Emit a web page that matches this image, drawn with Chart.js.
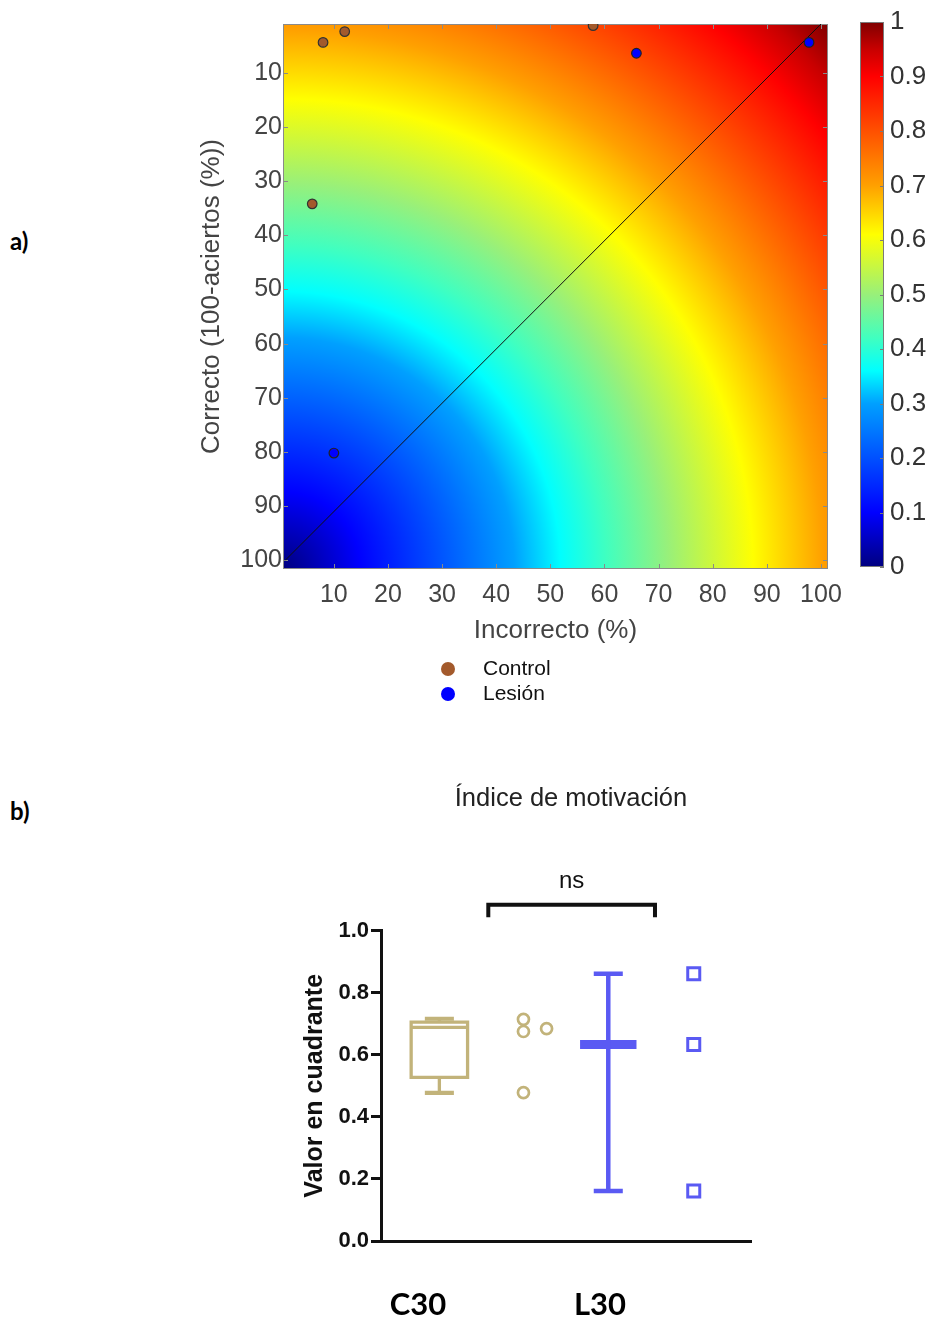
<!DOCTYPE html>
<html lang="es">
<head>
<meta charset="utf-8">
<title>Índice de motivación</title>
<script src="https://cdn.jsdelivr.net/npm/chart.js@4.4.1/dist/chart.umd.min.js"></script>
<style>
  body { margin: 0; background: #fff; }
  #figura { position: relative; width: 932px; height: 1323px; overflow: hidden; }
  #figura canvas { position: absolute; }
  .panel-tag { position: absolute; left: 10px; font: bold 24px Lato, "Open Sans", sans-serif; line-height: 28px; color: #000; }
</style>
</head>
<body>
<div id="figura">
  <div class="panel-tag" style="top:227px">a)</div>
  <div class="panel-tag" style="top:797px">b)</div>
  <canvas id="mapa" width="680" height="720" style="left:180px;top:0"></canvas>
  <canvas id="barra" width="82" height="600" style="left:850px;top:0"></canvas>
  <canvas id="indice" width="662" height="563" style="left:240px;top:760px"></canvas>
</div>
<script>
// ---- a) mapa correcto / incorrecto ----
const ejeTicks = [10, 20, 30, 40, 50, 60, 70, 80, 90, 100];
const controlIncorrecto = [8.0, 12.0, 57.9, 6.0];
const controlCorrecto = [4.4, 2.4, 1.3, 34.2];
const lesionIncorrecto = [65.9, 97.8, 10.0];
const lesionCorrecto = [6.4, 4.4, 80.2];
const diagonalIncorrecto = [1, 100];
const diagonalCorrecto = [100, 1];

// escala de color (posición 0-1 -> color)
const escalaPos = [0, 0.1, 0.2, 0.3, 0.36, 0.42, 0.5, 0.61, 0.7, 0.8, 0.9, 0.95, 1];
const escalaColor = ['#00007f', '#0000ff', '#0050ff', '#00a0ff', '#00ffff', '#40ffc0', '#98f07a',
  '#ffff00', '#ffa000', '#ff5000', '#ff0000', '#c80000', '#7f0000'];
const barraTicks = [0, 0.1, 0.2, 0.3, 0.4, 0.5, 0.6, 0.7, 0.8, 0.9, 1];

// ---- b) índice de motivación ----
const grupos = ['C30', 'L30'];
const c30Valores = [0.714, 0.675, 0.684, 0.478];
const c30Caja = [0.477, 0.527, 0.688, 0.705, 0.716]; // mín, Q1, mediana, Q3, máx
const l30Valores = [0.861, 0.633, 0.161];
const l30Mediana = 0.633;
const l30Rango = [0.161, 0.861];
const indiceTicks = [0, 0.2, 0.4, 0.6, 0.8, 1.0];
const significancia = 'ns';

// posiciones en el eje x de b) (0-4)
const POS = { caja: 0.631, c30: 1.54, l30: 2.457, l30Puntos: 3.381, etiquetas: [0.4, 2.368] };
const c30Jitter = [0, 0, 0.25, 0];
const ANCHO_CAJA = 0.305;
const ANCHO_CAP = 0.157;
const corcheteX = [1.16, 2.962];
const corcheteY = [1.043, 1.083];

const TAN = '#c2b37a';
const AZUL = '#5a5af3';
Chart.defaults.font.family = '"Liberation Sans", Arial, sans-serif';
Chart.defaults.animation = false;

const fijarTicks = (valores) => (s) => { s.ticks = valores.map(v => ({ value: v })); };

const fondoMapa = {
  id: 'fondoMapa',
  beforeDatasetsDraw(chart) {
    const { ctx, chartArea: a, scales } = chart;
    const w = a.right - a.left, h = a.bottom - a.top;
    ctx.save();
    const g = ctx.createRadialGradient(a.left, a.bottom, 0, a.left, a.bottom, Math.hypot(w, h));
    escalaPos.forEach((p, i) => g.addColorStop(p, escalaColor[i]));
    ctx.fillStyle = g;
    ctx.fillRect(a.left, a.top, w, h);
    ctx.strokeStyle = '#8a8a8a';
    ctx.lineWidth = 1;
    ctx.strokeRect(a.left + 0.5, a.top + 0.5, w - 1, h - 1);
    ctx.beginPath();
    scales.x.ticks.forEach(t => {
      const px = Math.round(scales.x.getPixelForValue(t.value)) + 0.5;
      ctx.moveTo(px, a.top); ctx.lineTo(px, a.top + 5);
      ctx.moveTo(px, a.bottom); ctx.lineTo(px, a.bottom - 5);
    });
    scales.y.ticks.forEach(t => {
      const py = Math.round(scales.y.getPixelForValue(t.value)) + 0.5;
      ctx.moveTo(a.left, py); ctx.lineTo(a.left + 5, py);
      ctx.moveTo(a.right, py); ctx.lineTo(a.right - 5, py);
    });
    ctx.stroke();
    ctx.restore();
  }
};

const leyendaMapa = {
  id: 'leyendaMapa',
  afterDraw(chart) {
    const { ctx, chartArea: a } = chart;
    ctx.save();
    ctx.font = '21px "Liberation Sans", Arial, sans-serif';
    ctx.textBaseline = 'middle';
    chart.data.datasets.filter(d => d.label).forEach((d, i) => {
      const y = a.bottom + 100 + i * 25;
      ctx.beginPath();
      ctx.arc(a.left + 165, y, 7, 0, Math.PI * 2);
      ctx.fillStyle = d.backgroundColor;
      ctx.fill();
      ctx.fillStyle = '#111';
      ctx.fillText(d.label, a.left + 200, y);
    });
    ctx.restore();
  }
};

new Chart(document.getElementById('mapa'), {
  type: 'scatter',
  data: {
    datasets: [
      { label: 'Control', data: controlIncorrecto.map((x, i) => ({ x, y: controlCorrecto[i] })),
        backgroundColor: '#a35a2c', borderColor: '#333', borderWidth: 1.2, pointRadius: 4.8 },
      { label: 'Lesión', data: lesionIncorrecto.map((x, i) => ({ x, y: lesionCorrecto[i] })),
        backgroundColor: '#0000ff', borderColor: '#222', borderWidth: 1.2, pointRadius: 4.8 },
      { type: 'line', label: '', data: diagonalIncorrecto.map((x, i) => ({ x, y: diagonalCorrecto[i] })),
        borderColor: '#111', borderWidth: 1, pointRadius: 0, fill: false },
    ],
  },
  options: {
    responsive: false,
    layout: { padding: { top: 24, right: 32, bottom: 71, left: 0 } },
    plugins: { legend: { display: false }, tooltip: { enabled: false } },
    scales: {
      x: {
        type: 'linear', min: 0.6, max: 101.3,
        afterBuildTicks: fijarTicks(ejeTicks),
        afterFit: (s) => { s.height = 80; },
        grid: { display: false, drawTicks: false }, border: { display: false },
        ticks: { font: { size: 25 }, color: '#444', padding: 11, maxRotation: 0 },
        title: { display: true, text: 'Incorrecto (%)', font: { size: 26 }, color: '#444', padding: { top: 0, bottom: 3 } },
      },
      y: {
        type: 'linear', reverse: true, min: 1, max: 101.6,
        afterBuildTicks: fijarTicks(ejeTicks),
        afterFit: (s) => { s.width = 103; },
        grid: { display: false, drawTicks: false }, border: { display: false },
        ticks: { font: { size: 25 }, color: '#444', padding: 1 },
        title: { display: true, text: 'Correcto (100-aciertos (%))', font: { size: 26 }, color: '#444', padding: { top: 16, bottom: 0 } },
      },
    },
  },
  plugins: [fondoMapa, leyendaMapa],
});

// barra de color
const marcoBarra = {
  id: 'marcoBarra',
  afterDatasetsDraw(chart) {
    const { ctx, chartArea: a, scales } = chart;
    ctx.save();
    ctx.strokeStyle = '#7a7a7a';
    ctx.lineWidth = 1;
    ctx.strokeRect(a.left + 0.5, a.top + 0.5, a.right - a.left - 1, a.bottom - a.top - 1);
    ctx.beginPath();
    scales.y.ticks.forEach(t => {
      const py = Math.round(scales.y.getPixelForValue(t.value)) + 0.5;
      ctx.moveTo(a.right, py); ctx.lineTo(a.right - 4, py);
    });
    ctx.stroke();
    ctx.restore();
  }
};

new Chart(document.getElementById('barra'), {
  type: 'bar',
  data: {
    labels: [''],
    datasets: [{
      data: [[0, 1]],
      barPercentage: 1, categoryPercentage: 1, borderWidth: 0,
      backgroundColor: (c) => {
        const a = c.chart.chartArea;
        if (!a) return '#888';
        const g = c.chart.ctx.createLinearGradient(0, a.bottom, 0, a.top);
        escalaPos.forEach((p, i) => g.addColorStop(p, escalaColor[i]));
        return g;
      },
    }],
  },
  options: {
    responsive: false,
    layout: { padding: { top: 22, right: 0, bottom: 33, left: 10 } },
    plugins: { legend: { display: false }, tooltip: { enabled: false } },
    scales: {
      x: { display: false },
      y: {
        position: 'right', min: 0, max: 1,
        afterBuildTicks: fijarTicks(barraTicks),
        afterFit: (s) => { s.width = 48; },
        grid: { display: false, drawTicks: false }, border: { display: false },
        ticks: { font: { size: 26 }, color: '#333', padding: 6,
          callback: (v) => (v === 0 || v === 1 ? String(v) : v.toFixed(1)) },
      },
    },
  },
  plugins: [marcoBarra],
});

// ---- b) ----
const tramo = (puntos, color, ancho, extra = {}) => ({
  type: 'line', data: puntos, borderColor: color, borderWidth: ancho,
  pointRadius: 0, fill: false, tension: 0, borderCapStyle: 'butt', ...extra,
});
const [cMin, cQ1, cMed, cQ3, cMax] = c30Caja;
const cx = POS.caja, ex = POS.l30;

const textoNs = {
  id: 'textoNs',
  afterDatasetsDraw(chart) {
    const { ctx, scales: { x, y } } = chart;
    const px = (x.getPixelForValue(corcheteX[0]) + x.getPixelForValue(corcheteX[1])) / 2;
    ctx.save();
    ctx.font = '24px "Liberation Sans", Arial, sans-serif';
    ctx.fillStyle = '#111';
    ctx.textAlign = 'center';
    ctx.textBaseline = 'middle';
    ctx.fillText(significancia, px, y.getPixelForValue(corcheteY[1]) - 23);
    ctx.restore();
  }
};

new Chart(document.getElementById('indice'), {
  type: 'scatter',
  data: {
    datasets: [
      // caja C30
      tramo([{ x: cx - ANCHO_CAJA, y: cQ1 }, { x: cx + ANCHO_CAJA, y: cQ1 }, { x: cx + ANCHO_CAJA, y: cQ3 },
        { x: cx - ANCHO_CAJA, y: cQ3 }, { x: cx - ANCHO_CAJA, y: cQ1 }], TAN, 3.3,
        { borderJoinStyle: 'miter', borderCapStyle: 'square' }),
      tramo([{ x: cx - ANCHO_CAJA, y: cMed }, { x: cx + ANCHO_CAJA, y: cMed }], TAN, 3.3),
      tramo([{ x: cx, y: cMin }, { x: cx, y: cQ1 }], TAN, 3.3),
      tramo([{ x: cx, y: cQ3 }, { x: cx, y: cMax }], TAN, 3.3),
      tramo([{ x: cx - ANCHO_CAP, y: cMin }, { x: cx + ANCHO_CAP, y: cMin }], TAN, 4.2),
      tramo([{ x: cx - ANCHO_CAP, y: cMax }, { x: cx + ANCHO_CAP, y: cMax }], TAN, 4.2),
      // puntos C30
      { type: 'scatter', data: c30Valores.map((v, i) => ({ x: POS.c30 + c30Jitter[i], y: v })),
        pointStyle: 'circle', pointRadius: 5.5, pointBorderWidth: 2.7,
        pointBorderColor: TAN, pointBackgroundColor: 'rgba(255,255,255,0)' },
      // mediana y rango L30
      tramo([{ x: ex, y: l30Rango[0] }, { x: ex, y: l30Rango[1] }], AZUL, 4.5),
      tramo([{ x: ex - ANCHO_CAP, y: l30Rango[0] }, { x: ex + ANCHO_CAP, y: l30Rango[0] }], AZUL, 4.5),
      tramo([{ x: ex - ANCHO_CAP, y: l30Rango[1] }, { x: ex + ANCHO_CAP, y: l30Rango[1] }], AZUL, 4.5),
      tramo([{ x: ex - ANCHO_CAJA, y: l30Mediana }, { x: ex + ANCHO_CAJA, y: l30Mediana }], AZUL, 9),
      // puntos L30
      { type: 'scatter', data: l30Valores.map(v => ({ x: POS.l30Puntos, y: v })),
        pointStyle: 'rect', pointRadius: 8.5, pointBorderWidth: 3,
        pointBorderColor: AZUL, pointBackgroundColor: '#fff' },
      // corchete de significancia
      tramo([{ x: corcheteX[0], y: corcheteY[0] }, { x: corcheteX[0], y: corcheteY[1] },
        { x: corcheteX[1], y: corcheteY[1] }, { x: corcheteX[1], y: corcheteY[0] }], '#111', 4,
        { clip: false, borderJoinStyle: 'miter' }),
    ],
  },
  options: {
    responsive: false,
    layout: { padding: 0 },
    plugins: {
      legend: { display: false },
      tooltip: { enabled: false },
      title: {
        display: true, text: 'Índice de motivación', color: '#222',
        font: { size: 25.5, weight: 'normal' }, padding: { top: 24, bottom: 116 },
      },
    },
    scales: {
      x: {
        type: 'linear', min: 0, max: 4,
        afterBuildTicks: fijarTicks(POS.etiquetas),
        afterFit: (s) => { s.height = 82; },
        grid: { display: false, drawTicks: false },
        border: { display: true, width: 3, color: '#111' },
        ticks: { font: { family: 'Lato, "Open Sans", sans-serif', size: 31, weight: 'bold' }, color: '#000',
          padding: 45, maxRotation: 0, autoSkip: false, callback: (v, i) => grupos[i] },
      },
      y: {
        min: 0, max: 1,
        afterBuildTicks: fijarTicks(indiceTicks),
        afterFit: (s) => { s.width = 141; },
        grid: { display: true, drawOnChartArea: false, drawTicks: true, tickLength: 10, tickWidth: 3, tickColor: '#111' },
        border: { display: true, width: 3, color: '#111' },
        ticks: { font: { size: 22, weight: 'bold' }, color: '#111', padding: 2, callback: (v) => v.toFixed(1) },
        title: { display: true, text: 'Valor en cuadrante', color: '#111',
          font: { size: 25, weight: 'bold' }, padding: { top: 60, bottom: 0 } },
      },
      // margen derecho para que el título quede centrado como en la figura
      margen: {
        position: 'right', min: 0, max: 1,
        afterFit: (s) => { s.width = 151; },
        grid: { display: false }, border: { display: false }, ticks: { display: false },
      },
    },
  },
  plugins: [textoNs],
});
</script>
</body>
</html>
